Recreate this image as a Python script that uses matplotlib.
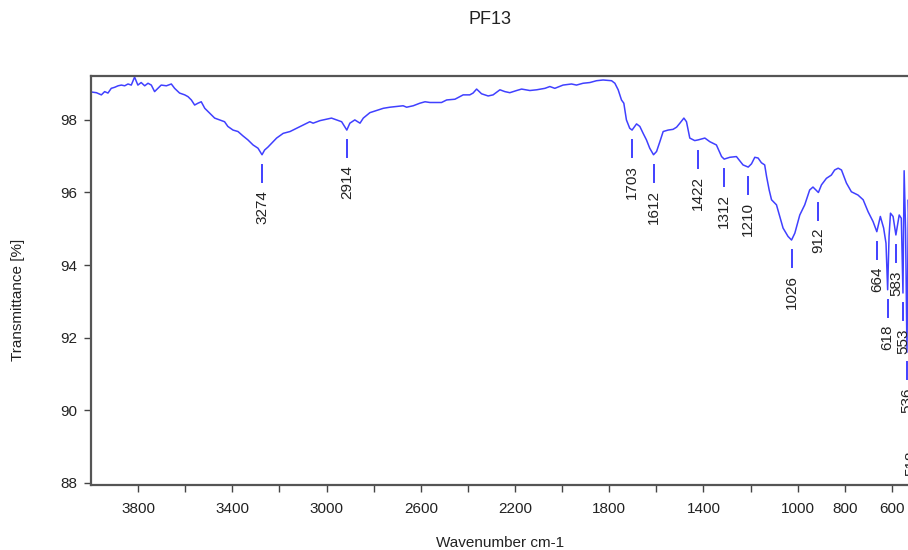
import matplotlib
matplotlib.use("Agg")
import matplotlib.pyplot as plt
from matplotlib.ticker import FixedLocator

plt.rcParams['font.family'] = ['Liberation Sans Narrow', 'Liberation Sans', 'DejaVu Sans']

# Spectrum (wavenumber cm-1, transmittance %)
wavenumber = [4000, 3977, 3956, 3942, 3928, 3914, 3899, 3885, 3871, 3857, 3843, 3829, 3815, 3801,
              3787, 3772, 3758, 3744, 3730, 3716, 3702, 3680, 3659, 3645, 3624, 3602, 3588, 3574,
              3560, 3546, 3532, 3517, 3503, 3475, 3454, 3433, 3419, 3397, 3376, 3355, 3334, 3312,
              3291, 3274, 3263, 3249, 3240, 3212, 3184, 3155, 3127, 3099, 3071, 3057, 3028, 3000,
              2979, 2957, 2936, 2914, 2901, 2880, 2858, 2844, 2816, 2787, 2759, 2731, 2703, 2675,
              2660, 2632, 2604, 2582, 2561, 2512, 2490, 2455, 2420, 2392, 2378, 2363, 2342, 2314,
              2293, 2264, 2243, 2222, 2193, 2172, 2137, 2108, 2073, 2052, 2031, 1996, 1960, 1939,
              1911, 1882, 1854, 1826, 1790, 1776, 1762, 1748, 1738, 1727, 1713, 1703, 1684, 1670,
              1656, 1642, 1628, 1612, 1599, 1585, 1571, 1550, 1529, 1514, 1500, 1483, 1472, 1458,
              1437, 1422, 1394, 1373, 1345, 1323, 1312, 1288, 1260, 1232, 1210, 1196, 1182, 1168,
              1154, 1140, 1132, 1121, 1111, 1090, 1076, 1062, 1041, 1026, 1012, 991, 970, 949,
              935, 912, 899, 878, 857, 843, 828, 814, 793, 772, 744, 722, 701, 680, 664, 649,
              635, 625, 618, 612, 606, 595, 583, 569, 560, 553, 548, 542, 536, 530, 524, 518, 510]
transmittance = [98.77, 98.75, 98.69, 98.78, 98.74, 98.87, 98.90, 98.94, 98.96, 98.94, 98.99, 98.96,
                 99.18, 98.96, 99.03, 98.94, 99.01, 98.96, 98.78, 98.87, 98.96, 98.94, 98.99, 98.87,
                 98.74, 98.69, 98.64, 98.55, 98.41, 98.46, 98.50, 98.32, 98.23, 98.05, 98.00, 97.95,
                 97.82, 97.72, 97.68, 97.56, 97.45, 97.31, 97.22, 97.04, 97.17, 97.25, 97.31, 97.50,
                 97.63, 97.68, 97.77, 97.86, 97.95, 97.91, 97.98, 98.02, 98.05, 98.00, 97.95, 97.72,
                 97.91, 98.00, 97.91, 98.05, 98.20, 98.26, 98.32, 98.35, 98.37, 98.39, 98.35, 98.39,
                 98.46, 98.50, 98.48, 98.48, 98.55, 98.57, 98.69, 98.69, 98.74, 98.85, 98.72, 98.66,
                 98.69, 98.83, 98.78, 98.75, 98.81, 98.85, 98.81, 98.83, 98.87, 98.92, 98.87, 98.96,
                 98.99, 98.96, 99.01, 99.03, 99.08, 99.10, 99.08, 99.01, 98.83, 98.55, 98.46, 98.00,
                 97.77, 97.72, 97.89, 97.82, 97.63, 97.45, 97.22, 97.04, 97.13, 97.40, 97.68, 97.72,
                 97.74, 97.80, 97.91, 98.05, 97.95, 97.50, 97.43, 97.45, 97.50, 97.40, 97.31, 96.99,
                 96.92, 96.97, 96.99, 96.76, 96.70, 96.79, 96.97, 96.95, 96.82, 96.76, 96.44, 96.07,
                 95.80, 95.66, 95.34, 95.02, 94.79, 94.69, 94.88, 95.38, 95.66, 96.07, 96.15, 96.00,
                 96.21, 96.39, 96.48, 96.62, 96.67, 96.62, 96.26, 96.02, 95.93, 95.80, 95.47, 95.20,
                 94.92, 95.34, 95.02, 94.60, 93.32, 94.80, 95.43, 95.34, 94.83, 95.38, 95.29, 93.23,
                 96.60, 95.00, 91.60, 95.80, 94.50, 89.87, 95.50]

# Labelled peaks
peak_wn = [3274, 2914, 1703, 1612, 1422, 1312, 1210, 1026, 912, 664, 618, 583, 553, 536, 518]
peak_t = [97.04, 97.72, 97.72, 97.04, 97.43, 96.92, 96.70, 94.69, 96.00, 94.92, 93.32, 94.83,
          93.23, 91.60, 89.87]

xtick_values = [3800, 3600, 3400, 3200, 3000, 2800, 2600, 2400, 2200, 2000, 1800, 1600, 1400,
                1200, 1000, 800, 600, 400]
xtick_labels = ['3800', '', '3400', '', '3000', '', '2600', '', '2200', '', '1800', '', '1400',
                '', '1000', '800', '600', '']
ytick_values = [88, 90, 92, 94, 96, 98]

W, H = 908, 550
fig = plt.figure(figsize=(W / 100, H / 100), dpi=100)
left_px, right_px, top_px, bottom_px = 91, 939, 76, 485
ax = fig.add_axes([left_px / W, 1 - bottom_px / H, (right_px - left_px) / W,
                   (bottom_px - top_px) / H])

color = '#4040ff'
ax.plot(wavenumber, transmittance, color=color, lw=1.1)

for w, t in zip(peak_wn, peak_t):
    ax.plot([w, w], [t - 0.28, t - 0.75], color=color, lw=1.4)
    ax.text(w, t - 0.97, str(w), rotation=90, ha='center', va='top', fontsize=11,
            color='#222222')

ax.set_xlim(4000, 400)
ax.set_ylim(87.94, 99.21)
ax.xaxis.set_major_locator(FixedLocator(xtick_values))
ax.set_xticklabels(xtick_labels)
ax.set_yticks(ytick_values)
ax.tick_params(axis='both', direction='out', length=5, width=1, labelsize=11,
               colors='#222222', color='#444444')
ax.tick_params(axis='x', pad=7)
ax.tick_params(axis='y', pad=5)
for s in ax.spines.values():
    s.set_color('#555555')
    s.set_linewidth(1.6)

fig.text(490 / W, 1 - 20 / H, 'PF13', ha='center', va='center', fontsize=13, color='#222222')
fig.text(500 / W, 1 - 543 / H, 'Wavenumber cm-1', ha='center', va='center', fontsize=11,
         color='#222222')
fig.text(18 / W, 1 - 300 / H, 'Transmittance [%]', ha='center', va='center', rotation=90,
         fontsize=11, color='#222222')

fig.savefig('out.png', dpi=100)
